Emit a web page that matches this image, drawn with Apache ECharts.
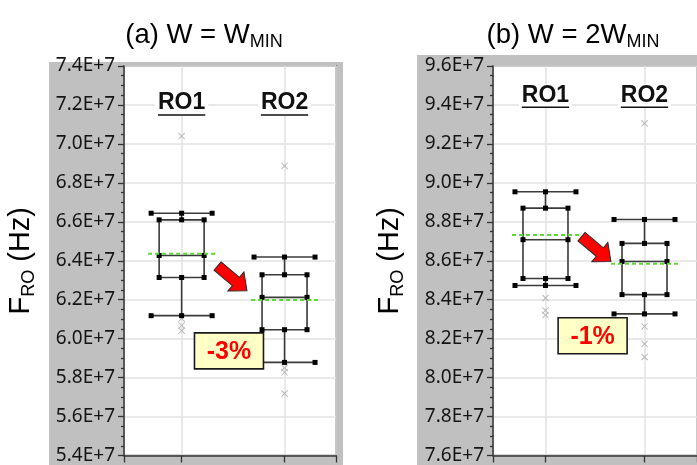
<!DOCTYPE html>
<html>
<head>
<meta charset="utf-8">
<script src="https://cdn.jsdelivr.net/npm/echarts@6/dist/echarts.min.js"></script>
<style>
  html, body { margin: 0; padding: 0; background: #fff; }
  #chart { width: 697px; height: 465px; }
</style>
</head>
<body>
<div id="chart"></div>
<script>
// Ring-oscillator frequency spread (Hz) for two layouts, two oscillators each
const groups = ['RO1', 'RO2'];
const groupPos = [1, 2];

// (a) W = Wmin
const aWhiskerLow  = [6.118e7, 5.878e7];
const aQ1          = [6.314e7, 6.046e7];
const aMedian      = [6.427e7, 6.212e7];
const aQ3          = [6.610e7, 6.328e7];
const aWhiskerHigh = [6.644e7, 6.419e7];
const aMean        = [6.436e7, 6.198e7];
const aOutliersRO1 = [7.040e7, 6.104e7, 6.067e7, 6.041e7];
const aOutliersRO2 = [6.887e7, 5.850e7, 5.827e7, 5.718e7];

// (b) W = 2Wmin
const bWhiskerLow  = [8.473e7, 8.327e7];
const bQ1          = [8.509e7, 8.426e7];
const bMedian      = [8.708e7, 8.596e7];
const bQ3          = [8.870e7, 8.689e7];
const bWhiskerHigh = [8.954e7, 8.812e7];
const bMean        = [8.732e7, 8.585e7];
const bOutliersRO1 = [9.469e7, 8.409e7, 8.345e7, 8.321e7];
const bOutliersRO2 = [9.306e7, 8.263e7, 8.173e7, 8.106e7];

// axis ranges
const aYRange = [5.4e7, 7.4e7];
const bYRange = [7.6e7, 9.6e7];
const yStep = 0.2e7;

// median shift labels
const aChange = '-3%';
const bChange = '-1%';

const panelTitles = [['(a) W = W', 'MIN'], ['(b) W = 2W', 'MIN']];

function boxRows(lo, q1, md, q3, hi, mean) {
  return groupPos.map((p, i) => [p, lo[i], q1[i], md[i], q3[i], hi[i], mean[i]]);
}
function outlierRows(list1, list2) {
  return list1.map(v => [groupPos[0], v]).concat(list2.map(v => [groupPos[1], v]));
}

const BOX_HALF = 22.5, CAP_HALF = 30.5, MEAN_HALF = 33.5, DOT = 5;

function renderBox(params, api) {
  const x = api.value(0);
  const lo = api.coord([x, api.value(1)])[1];
  const q1 = api.coord([x, api.value(2)])[1];
  const md = api.coord([x, api.value(3)])[1];
  const q3 = api.coord([x, api.value(4)])[1];
  const hi = api.coord([x, api.value(5)])[1];
  const cx = api.coord([x, api.value(1)])[0];
  const stroke = { stroke: '#3a3a3a', lineWidth: 1.6, fill: null };
  const ln = (x1, y1, x2, y2) => ({ type: 'line', shape: { x1, y1, x2, y2 }, style: stroke });
  const children = [
    { type: 'rect', shape: { x: cx - BOX_HALF, y: q3, width: 2 * BOX_HALF, height: q1 - q3 },
      style: { fill: 'none', stroke: '#3a3a3a', lineWidth: 1.6 } },
    ln(cx - BOX_HALF, md, cx + BOX_HALF, md),
    ln(cx, q3, cx, hi),
    ln(cx, q1, cx, lo),
    ln(cx - CAP_HALF, hi, cx + CAP_HALF, hi),
    ln(cx - CAP_HALF, lo, cx + CAP_HALF, lo)
  ];
  const dots = [
    [cx - CAP_HALF, hi], [cx, hi], [cx + CAP_HALF, hi],
    [cx - BOX_HALF, q3], [cx, q3], [cx + BOX_HALF, q3],
    [cx - BOX_HALF, md], [cx + BOX_HALF, md],
    [cx - BOX_HALF, q1], [cx, q1], [cx + BOX_HALF, q1],
    [cx - CAP_HALF, lo], [cx, lo], [cx + CAP_HALF, lo]
  ];
  dots.forEach(d => children.push({
    type: 'rect', shape: { x: d[0] - DOT / 2, y: d[1] - DOT / 2, width: DOT, height: DOT },
    style: { fill: '#000' }
  }));
  return { type: 'group', children };
}

function renderMean(params, api) {
  const x = api.value(0);
  const p = api.coord([x, api.value(6)]);
  return {
    type: 'line',
    shape: { x1: p[0] - MEAN_HALF, y1: p[1], x2: p[0] + MEAN_HALF, y2: p[1] },
    style: { stroke: '#5ED63A', lineWidth: 2, lineDash: [4, 3] },
    z2: 5
  };
}

const crossPath = 'path://M0,1L1,0L5,4L9,0L10,1L6,5L10,9L9,10L5,6L1,10L0,9L4,5Z';

const labelFont = '"Noto Sans", "DejaVu Sans", sans-serif';
const textFont = '"Liberation Sans", Arial, sans-serif';

function yAxisFor(gridIndex, range) {
  return {
    type: 'value', gridIndex, min: range[0], max: range[1], interval: yStep,
    name: '{f|F}{s|RO}{f| (Hz)}',
    nameLocation: 'middle', nameRotate: 90, nameGap: 86,
    nameTextStyle: {
      rich: {
        f: { fontFamily: textFont, fontSize: 29, color: '#000', lineHeight: 34, verticalAlign: 'middle' },
        s: { fontFamily: textFont, fontSize: 18, color: '#000', lineHeight: 12, verticalAlign: 'bottom' }
      }
    },
    axisLine: { show: true, lineStyle: { color: '#333', width: 1.5 } },
    axisTick: { show: true, inside: false, length: 6, lineStyle: { color: '#333', width: 1.3 } },
    minorTick: { show: true, splitNumber: 4, length: 3, lineStyle: { color: '#333', width: 1.3 } },
    axisLabel: {
      margin: 9, fontFamily: labelFont, fontSize: 19, color: '#141414',
      formatter: v => (v / 1e7).toFixed(1) + 'E+7'
    },
    splitLine: { show: true, lineStyle: { color: '#e2e2e2', width: 1.5 } }
  };
}

function xAxisFor(gridIndex, min, max) {
  return {
    type: 'value', gridIndex, min, max,
    axisLine: { show: true, lineStyle: { color: '#333', width: 1.5 } },
    axisTick: { show: true, inside: false, length: 7, customValues: [min, groupPos[0], groupPos[1], max],
      lineStyle: { color: '#333', width: 1.3 } },
    axisLabel: { show: false },
    splitLine: { show: true, lineStyle: { color: '#e2e2e2', width: 1.5 } }
  };
}

function titleFor(i, centerX) {
  return {
    text: '{m|' + panelTitles[i][0] + '}{s|' + panelTitles[i][1] + '}',
    left: centerX, top: 14, textAlign: 'center',
    textStyle: {
      fontWeight: 'normal',
      rich: {
        m: { fontFamily: textFont, fontSize: 27.5, fontWeight: 'normal', color: '#000', lineHeight: 32, verticalAlign: 'middle' },
        s: { fontFamily: textFont, fontSize: 18, fontWeight: 'normal', color: '#000', lineHeight: 10, verticalAlign: 'bottom' }
      }
    }
  };
}

const chart = echarts.init(document.getElementById('chart'), null, { renderer: 'canvas' });

const gridStyle = { show: true, backgroundColor: '#fff', borderColor: '#555', borderWidth: 1.5 };

chart.setOption({
  animation: false,
  title: [titleFor(0, 199), titleFor(1, 568)],
  grid: [
    Object.assign({ left: 124, top: 66, width: 212, height: 391 }, gridStyle),
    Object.assign({ left: 493, top: 66, width: 212, height: 391 }, gridStyle)
  ],
  xAxis: [xAxisFor(0, 0.44, 2.5), xAxisFor(1, 0.47, 2.53)],
  yAxis: [yAxisFor(0, aYRange), yAxisFor(1, bYRange)],
  series: [
    { type: 'scatter', xAxisIndex: 0, yAxisIndex: 0, symbol: crossPath, symbolSize: 7,
      itemStyle: { color: '#a8a8a8' }, data: outlierRows(aOutliersRO1, aOutliersRO2), z: 2 },
    { type: 'scatter', xAxisIndex: 1, yAxisIndex: 1, symbol: crossPath, symbolSize: 7,
      itemStyle: { color: '#a8a8a8' }, data: outlierRows(bOutliersRO1, bOutliersRO2), z: 2 },
    { type: 'custom', xAxisIndex: 0, yAxisIndex: 0, renderItem: renderBox,
      data: boxRows(aWhiskerLow, aQ1, aMedian, aQ3, aWhiskerHigh, aMean), z: 3 },
    { type: 'custom', xAxisIndex: 1, yAxisIndex: 1, renderItem: renderBox,
      data: boxRows(bWhiskerLow, bQ1, bMedian, bQ3, bWhiskerHigh, bMean), z: 3 },
    { type: 'custom', xAxisIndex: 0, yAxisIndex: 0, renderItem: renderMean,
      data: boxRows(aWhiskerLow, aQ1, aMedian, aQ3, aWhiskerHigh, aMean), z: 4 },
    { type: 'custom', xAxisIndex: 1, yAxisIndex: 1, renderItem: renderMean,
      data: boxRows(bWhiskerLow, bQ1, bMedian, bQ3, bWhiskerHigh, bMean), z: 4 }
  ]
});

// annotations anchored in data coordinates
const px = (g, x, y) => chart.convertToPixel({ gridIndex: g }, [x, y]);
const measure = (() => {
  const ctx = document.createElement('canvas').getContext('2d');
  return (txt, font) => { ctx.font = font; return ctx.measureText(txt).width; };
})();

const groupFont = 'bold 23px ' + textFont;
const graphics = [];

// grey frame behind each plot
graphics.push({ type: 'rect', z: -10, shape: { x: 49, y: 62, width: 294, height: 410 }, style: { fill: '#c0c0c0' } });
graphics.push({ type: 'rect', z: -10, shape: { x: 417, y: 55, width: 290, height: 420 }, style: { fill: '#c0c0c0' } });

function groupLabels(g, yVal) {
  groups.forEach((name, i) => {
    const p = px(g, groupPos[i], yVal);
    const w = measure(name, groupFont);
    graphics.push({ type: 'rect', z: 20, shape: { x: p[0] - w / 2 - 3, y: p[1] - 11, width: w + 6, height: 24 },
      style: { fill: '#fff' } });
    graphics.push({ type: 'text', z: 21, x: p[0], y: p[1],
      style: { text: name, font: groupFont, fill: '#111', align: 'center', verticalAlign: 'middle',
        textAlign: 'center', textVerticalAlign: 'middle' } });
    graphics.push({ type: 'line', z: 21, shape: { x1: p[0] - w / 2, y1: p[1] + 12, x2: p[0] + w / 2, y2: p[1] + 12 },
      style: { stroke: '#111', lineWidth: 1.6 } });
  });
}
groupLabels(0, 7.21e7);
groupLabels(1, 9.45e7);

function arrow(g, x, y) {
  const p = px(g, x, y);
  graphics.push({ type: 'polygon', z: 20, x: p[0], y: p[1], rotation: -0.70,
    shape: { points: [[-19, -5.5], [5, -5.5], [5, -12.5], [19.5, 0], [5, 12.5], [5, 5.5], [-19, 5.5]] },
    style: { fill: '#ff0000', stroke: '#2a2a2a', lineWidth: 1 } });
}
arrow(0, 1.49, 6.31e7);
arrow(1, 1.51, 8.661e7);

function changeBox(g, x, y, txt) {
  const p = px(g, x, y);
  graphics.push({ type: 'rect', z: 20, shape: { x: p[0] - 34.5, y: p[1] - 18, width: 69, height: 36 },
    style: { fill: '#ffffc6', stroke: '#1a1a1a', lineWidth: 1.6 } });
  graphics.push({ type: 'text', z: 21, x: p[0], y: p[1] + 1,
    style: { text: txt, font: 'bold 25px ' + textFont, fill: '#ff0000', align: 'center', verticalAlign: 'middle',
      textAlign: 'center', textVerticalAlign: 'middle' } });
}
changeBox(0, 1.46, 5.937e7, aChange);
changeBox(1, 1.476, 8.215e7, bChange);

chart.setOption({ graphic: { elements: graphics } });
</script>
</body>
</html>
